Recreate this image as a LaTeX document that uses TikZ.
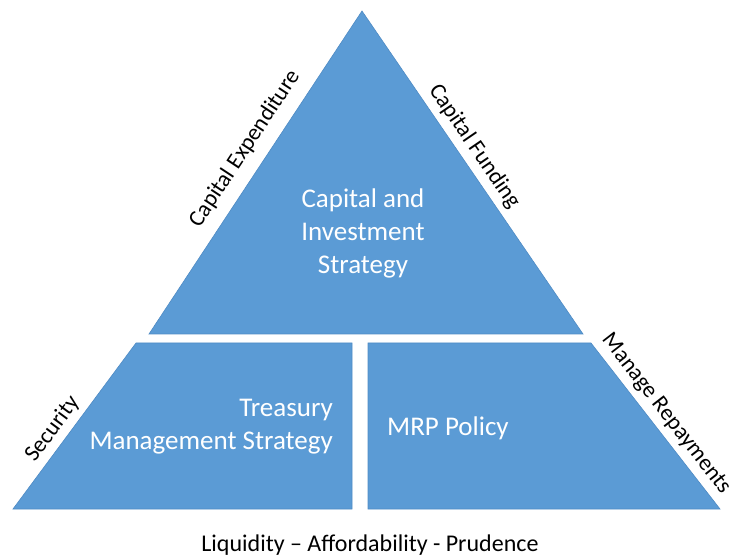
\documentclass[tikz,border=0pt]{standalone}
\usepackage{fontspec}
\setmainfont{Carlito}
\usetikzlibrary{positioning}
\definecolor{pyrblue}{HTML}{5B9BD5}
\definecolor{pyredge}{HTML}{4F8BC4}

\begin{document}
\begin{tikzpicture}[x=1pt,y=-1pt,
   block/.style={fill=pyrblue,draw=pyredge,line width=0.6pt},
   inlabel/.style={text=white,font=\fontsize{27}{33}\selectfont,inner sep=0pt},
   sidelabel/.style={font=\fontsize{23}{27}\selectfont,inner sep=1pt,sloped,above=#1},
   sidelabel/.default=5pt]
  \useasboundingbox (0,0) rectangle (732,556);

  \coordinate (apex) at (362,11);           % top of pyramid
  \coordinate (cbl)  at (149,334);          % capital block bottom left
  \coordinate (cbr)  at (583,334);          % capital block bottom right
  \coordinate (tml)  at (136,343);          % treasury block top left
  \coordinate (tmr)  at (352,343);          % treasury block top right
  \coordinate (tbl)  at (13,509);           % treasury block bottom left
  \coordinate (tbr)  at (352,509);          % treasury block bottom right
  \coordinate (mtl)  at (368,343);          % MRP block top left
  \coordinate (mtr)  at (591,343);          % MRP block top right
  \coordinate (mbl)  at (368,509);          % MRP block bottom left
  \coordinate (mbr)  at (720,509);          % MRP block bottom right

  \draw[block] (apex) -- (cbr) -- (cbl) -- cycle;         % capital triangle
  \draw[block] (tml) -- (tmr) -- (tbr) -- (tbl) -- cycle; % treasury block
  \draw[block] (mtl) -- (mtr) -- (mbr) -- (mbl) -- cycle; % MRP block

  \node[inlabel,align=center] (capital) at (363,233)
       {Capital and\\Investment\\Strategy};
  \node[inlabel,align=right,anchor=east] (treasury) at (333,427)
       {Treasury\\Management Strategy};
  \node[inlabel,anchor=west] (mrp) at (387,428) {MRP Policy};

  \path (cbl) -- node[sidelabel=11pt,pos=0.536] (capex) {Capital Expenditure} (apex); % left edge
  \path (apex) -- node[sidelabel,pos=0.448] (capfund) {Capital Funding} (cbr);        % right edge
  \path (tbl) -- node[sidelabel,pos=0.425] (security) {Security} (tml);               % lower left edge
  \path (mtr) -- node[sidelabel,pos=0.485] (repay) {Manage Repayments} (mbr);         % lower right edge

  \node[font=\fontsize{24}{28}\selectfont] (motto) at (370,545)
       {Liquidity – Affordability - Prudence};   % bottom line
\end{tikzpicture}
\end{document}
